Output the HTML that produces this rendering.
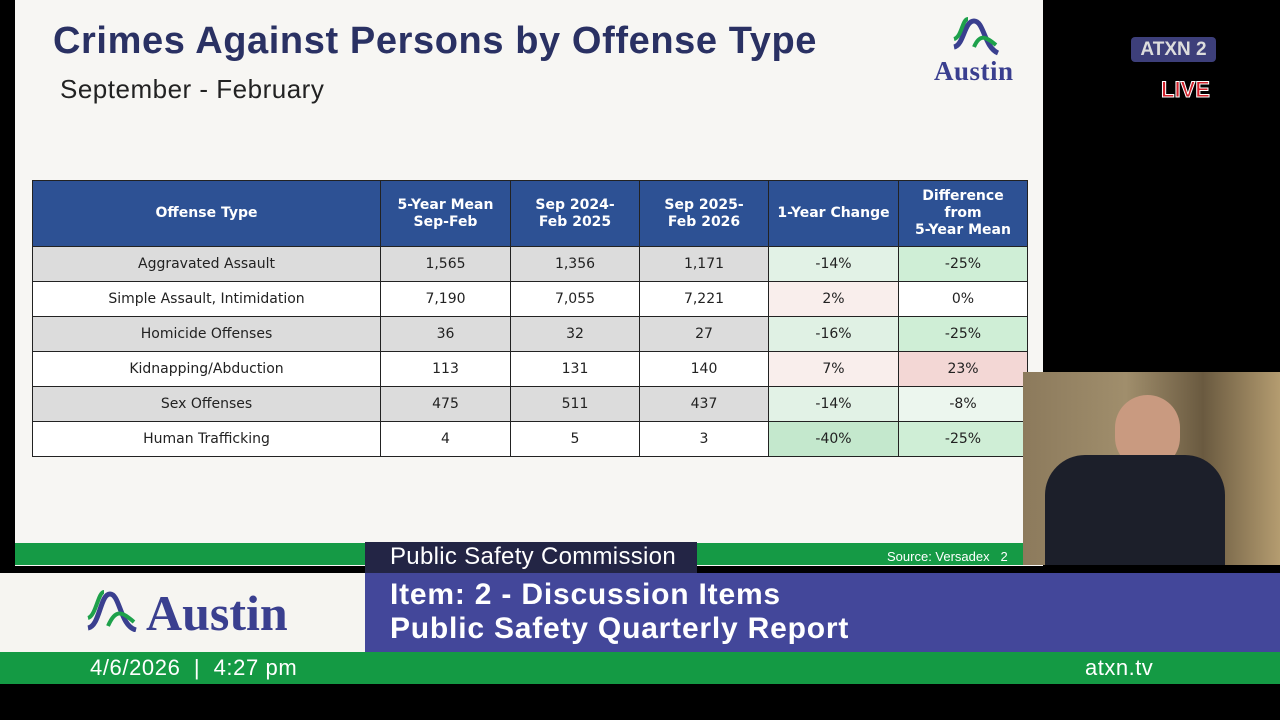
<!DOCTYPE html>
<html><head><meta charset="utf-8"><style>
*{margin:0;padding:0;box-sizing:border-box}
body{width:1280px;height:720px;background:#000;position:relative;overflow:hidden;font-family:"Liberation Sans",sans-serif}
.abs{position:absolute}
#slide{left:15px;top:0;width:1028px;height:566px;background:#f7f6f3}
table{position:absolute;left:32px;top:180px;border-collapse:collapse;font-family:"DejaVu Sans",sans-serif;font-size:14px;color:#222}
td,th{border:1.5px solid #222;text-align:center;height:35px}
th{background:#2d5194;color:#fff;font-size:14px;height:66px;line-height:17px}
tr.g td{background:#dcdcdc}
tr.w td{background:#fff}
</style></head><body>
<div id="slide" class="abs"></div>
<div class="abs" style="left:53px;top:20px;font-size:38px;font-weight:bold;color:#2a3163;letter-spacing:0.6px">Crimes Against Persons by Offense Type</div>
<div class="abs" style="left:60px;top:74px;font-size:26px;color:#222;letter-spacing:0.5px">September - February</div>
<svg class="abs" style="left:950px;top:17px" width="54" height="40"><path d="M4 30 C14 28 14 4 24 4 C34 4 34 30 48 36" stroke="#3a3f8f" stroke-width="5" fill="none"/><path d="M4 22 C12 20 12 2 18 2" stroke="#1ea14b" stroke-width="4" fill="none"/><path d="M24 30 C30 16 36 20 46 28" stroke="#1ea14b" stroke-width="4" fill="none"/></svg>
<div class="abs" style="left:934px;top:56px;font-size:27px;font-weight:bold;color:#3a3f8f;font-family:'Liberation Serif',serif;letter-spacing:0.5px">Austin</div>
<div class="abs" style="left:1131px;top:37px;width:85px;height:25px;background:#3d3f7a;border-radius:4px;color:#ddd;font-weight:bold;font-size:19px;text-align:center;line-height:25px">ATXN 2</div>
<div class="abs" style="left:1161px;top:77px;color:#d0202a;font-weight:bold;font-size:22px;-webkit-text-stroke:1px #fff">LIVE</div>
<table>
<tr><th style="width:348px">Offense Type</th><th style="width:130px">5-Year Mean<br>Sep-Feb</th><th style="width:129px">Sep 2024-<br>Feb 2025</th><th style="width:129px">Sep 2025-<br>Feb 2026</th><th style="width:130px">1-Year Change</th><th style="width:129px">Difference<br>from<br>5-Year Mean</th></tr>
<tr class="g"><td>Aggravated Assault</td><td>1,565</td><td>1,356</td><td>1,171</td><td style="background:#e2f2e6">-14%</td><td style="background:#cfeed6">-25%</td></tr>
<tr class="w"><td>Simple Assault, Intimidation</td><td>7,190</td><td>7,055</td><td>7,221</td><td style="background:#f9eeec">2%</td><td>0%</td></tr>
<tr class="g"><td>Homicide Offenses</td><td>36</td><td>32</td><td>27</td><td style="background:#e0f1e4">-16%</td><td style="background:#cfeed6">-25%</td></tr>
<tr class="w"><td>Kidnapping/Abduction</td><td>113</td><td>131</td><td>140</td><td style="background:#f9eeec">7%</td><td style="background:#f3d7d5">23%</td></tr>
<tr class="g"><td>Sex Offenses</td><td>475</td><td>511</td><td>437</td><td style="background:#e2f2e6">-14%</td><td style="background:#ecf6ee">-8%</td></tr>
<tr class="w"><td>Human Trafficking</td><td>4</td><td>5</td><td>3</td><td style="background:#c4e8cd">-40%</td><td style="background:#cfeed6">-25%</td></tr>
</table>
<div class="abs" style="left:15px;top:543px;width:1008px;height:22px;background:#159a45"></div>
<div class="abs" style="left:887px;top:549px;color:#fff;font-size:13px">Source: Versadex &nbsp; 2</div>
<div class="abs" style="left:1023px;top:372px;width:257px;height:193px;background:linear-gradient(90deg,#8c7a5c 0%,#a08e6c 40%,#6a5a40 70%,#b49c70 100%)"></div>
<div class="abs" style="left:1115px;top:395px;width:65px;height:75px;border-radius:35px;background:#c99a80"></div>
<div class="abs" style="left:1045px;top:455px;width:180px;height:110px;border-radius:40px 40px 0 0;background:#1c1f2a"></div>
<div class="abs" style="left:0;top:573px;width:365px;height:79px;background:#f6f5f1"></div>
<svg class="abs" style="left:86px;top:590px" width="54" height="42"><path d="M2 38 C14 36 14 4 24 4 C34 4 34 36 50 40" stroke="#3a3f8f" stroke-width="5" fill="none"/><path d="M2 28 C10 26 12 2 18 2" stroke="#1ea14b" stroke-width="4" fill="none"/><path d="M22 36 C30 18 36 22 48 32" stroke="#1ea14b" stroke-width="4" fill="none"/></svg>
<div class="abs" style="left:146px;top:584px;font-size:50px;font-weight:bold;color:#3a3f8f;font-family:'Liberation Serif',serif">Austin</div>
<div class="abs" style="left:365px;top:542px;width:332px;height:31px;background:#232545"></div>
<div class="abs" style="left:390px;top:543px;color:#fff;font-size:24px;letter-spacing:0.3px">Public Safety Commission</div>
<div class="abs" style="left:365px;top:573px;width:915px;height:79px;background:#43479a"></div>
<div class="abs" style="left:390px;top:578px;color:#fff;font-size:30px;font-weight:bold;line-height:34px;letter-spacing:0.8px">Item: 2 - Discussion Items<br>Public Safety Quarterly Report</div>
<div class="abs" style="left:0;top:652px;width:1280px;height:32px;background:#149a44"></div>
<div class="abs" style="left:90px;top:655px;color:#fff;font-size:22px;letter-spacing:0.6px">4/6/2026 &nbsp;|&nbsp; 4:27 pm</div>
<div class="abs" style="left:1085px;top:655px;color:#fff;font-size:22px;letter-spacing:0.5px">atxn.tv</div>
</body></html>
